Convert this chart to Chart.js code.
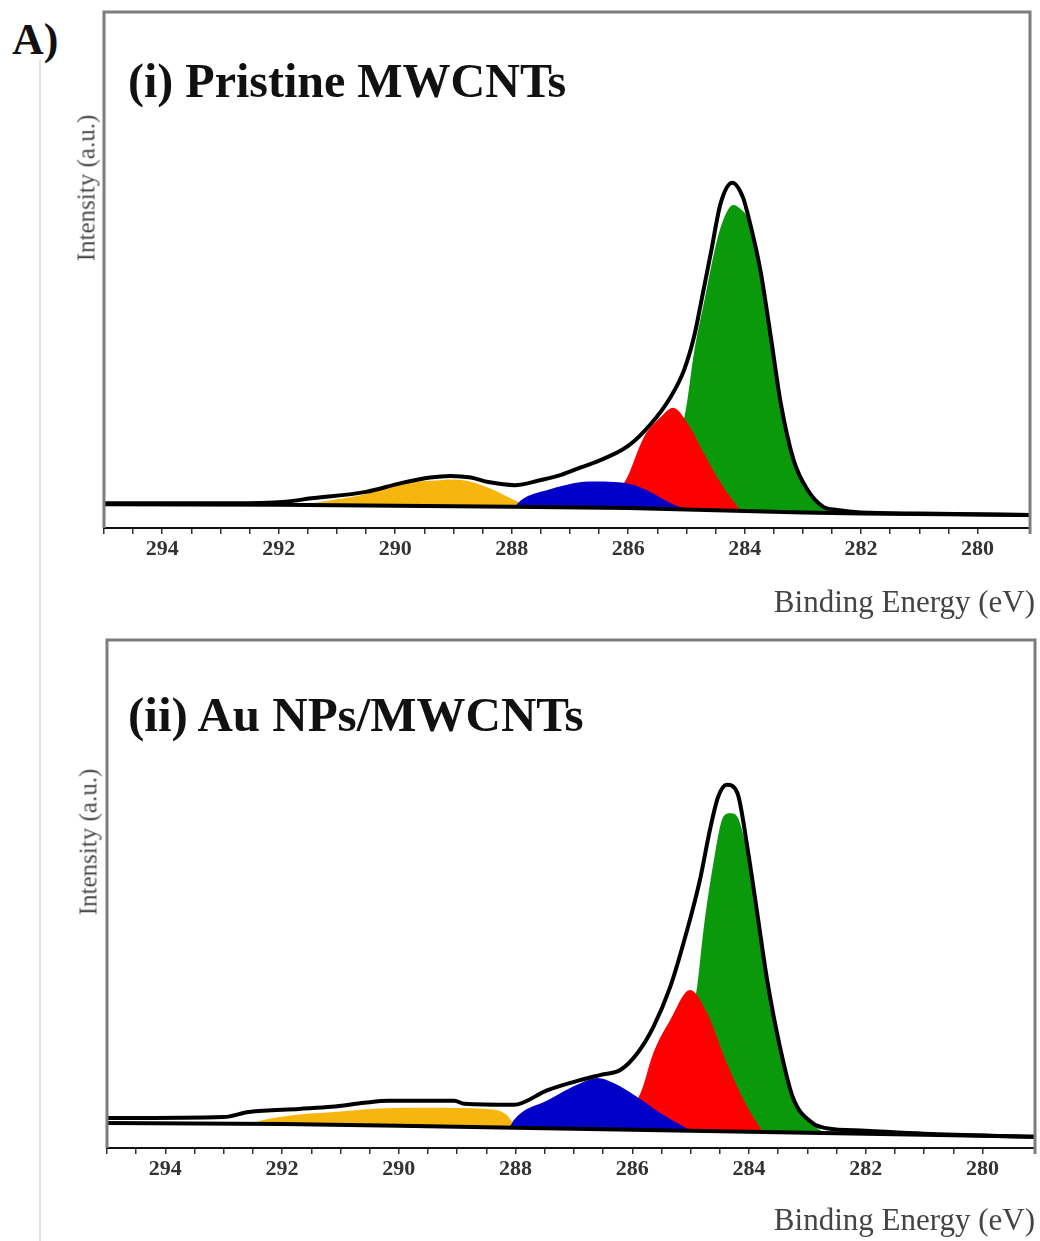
<!DOCTYPE html>
<html>
<head>
<meta charset="utf-8">
<title>C1s XPS spectra</title>
<script src="https://cdn.jsdelivr.net/npm/chart.js@4.4.1/dist/chart.umd.min.js"></script>
<style>
  body { margin: 0; background: #fff; }
  #wrap { position: relative; width: 1040px; height: 1241px; overflow: hidden; font-family: "Liberation Serif", "Times New Roman", serif; }
  canvas { position: absolute; left: 0; }
  .lbl { position: absolute; font-weight: bold; color: #111; line-height: 1; white-space: nowrap; }
  .ytitle { position: absolute; font-size: 25px; color: #4a4a4a; line-height: 1; white-space: nowrap;
            transform: translate(-50%, -50%) rotate(-90deg); }
  .xtitle { position: absolute; right: 5px; font-size: 31px; color: #444; line-height: 1; white-space: nowrap;
            transform: translateY(-50%); }
  #sideLine { position: absolute; left: 39px; top: 60px; width: 2px; height: 1181px; background: #e2e2e2; }
</style>
</head>
<body>
<div id="wrap">
  <div id="sideLine"></div>
  <div class="lbl" style="left:12px; top:18px; font-size:44px;">A)</div>
  <canvas id="chartTop" width="1040" height="620" style="top:0"></canvas>
  <canvas id="chartBottom" width="1040" height="621" style="top:620px"></canvas>
  <div class="lbl" style="left:128px; top:57px; font-size:48px;">(i) Pristine MWCNTs</div>
  <div class="lbl" style="left:128px; top:690px; font-size:49px;">(ii) Au NPs/MWCNTs</div>
  <div class="ytitle" style="left:86px; top:188px;">Intensity (a.u.)</div>
  <div class="ytitle" style="left:88px; top:842px;">Intensity (a.u.)</div>
  <div class="xtitle" style="top:601px;">Binding Energy (eV)</div>
  <div class="xtitle" style="top:1219px;">Binding Energy (eV)</div>
</div>

<script>
// axis range and tick labels (binding energy, eV)
const energyMax = 295;
const energyMin = 279.1;
const tickLabels = [294, 292, 290, 288, 286, 284, 282, 280];

// ---- (i) Pristine MWCNTs ----
const topBgE = [295, 292, 290, 288, 286, 285, 284, 283, 282, 279.1];
const topBgI = [4.6, 4.5, 4.3, 4.1, 3.9, 3.6, 3.3, 3.0, 2.8, 2.5];

const topEnvE = [295, 293, 292, 291.4, 290.5, 289.9, 289.4, 289.05, 288.7, 288.4, 287.95, 287.5, 287.15, 286.8, 286.6, 286.0, 285.6, 285.27, 285.04, 284.87, 284.75, 284.58, 284.41, 284.21, 284.03, 283.95, 283.73, 283.55, 283.38, 283.16, 282.92, 282.65, 282.41, 282.0, 281.0, 279.1];
const topEnvI = [4.8, 4.8, 5.0, 5.8, 7.0, 8.7, 9.8, 10.1, 9.8, 8.9, 8.3, 9.3, 10.3, 11.8, 12.6, 15.9, 20.3, 25.4, 30.6, 37.0, 43.6, 53.3, 63.0, 66.9, 64.1, 61.0, 50.0, 37.0, 24.2, 13.2, 7.4, 4.1, 3.5, 3.0, 2.8, 2.5];

const topOrangeE = [291.6, 291.1, 290.5, 290.2, 289.7, 289.3, 289.05, 288.8, 288.4, 287.95, 287.7];
const topOrangeI = [4.5, 5.4, 6.6, 7.8, 8.9, 9.2, 9.4, 9.2, 7.8, 5.4, 4.1];

const topBlueE = [287.95, 287.84, 287.37, 286.8, 286.59, 286.24, 286.0, 285.66, 285.27, 285.0];
const topBlueI = [4.1, 5.4, 7.4, 8.9, 9.0, 8.9, 8.6, 7.2, 4.8, 3.6];

const topRedE = [286.6, 286.3, 286.04, 285.73, 285.44, 285.23, 284.98, 284.7, 284.41, 284.07];
const topRedI = [3.9, 6.0, 9.3, 17.6, 21.5, 23.3, 20.3, 14.5, 8.7, 3.3];

const topGreenE = [285.9, 285.6, 285.3, 285.01, 284.87, 284.7, 284.46, 284.29, 284.19, 284.07, 283.95, 283.73, 283.55, 283.38, 283.16, 282.92, 282.65, 282.45];
const topGreenI = [3.9, 6.0, 12.0, 22.9, 33.9, 43.6, 56.4, 61.6, 62.6, 61.8, 60.0, 49.3, 36.4, 23.6, 12.8, 7.0, 3.9, 3.0];

// ---- (ii) Au NPs/MWCNTs ----
const botBgE = [295, 292, 290, 288, 286, 284, 283, 281, 279.1];
const botBgI = [4.9, 4.7, 4.4, 4.0, 3.6, 3.2, 3.0, 2.6, 2.2];

const botEnvE = [295, 293, 292.57, 291.71, 291.15, 290.59, 290.18, 289.05, 288.88, 288.03, 287.45, 286.88, 286.54, 286.2, 285.91, 285.64, 285.35, 285.06, 284.84, 284.67, 284.53, 284.38, 284.2, 284.03, 283.86, 283.69, 283.47, 283.25, 282.91, 282.67, 282.0, 281.0, 279.1];
const botEnvI = [5.9, 6.1, 7.1, 7.7, 8.1, 8.9, 9.3, 9.3, 8.7, 8.5, 11.4, 13.4, 14.4, 15.4, 18.7, 23.8, 31.7, 42.9, 52.8, 62.6, 69.1, 71.5, 69.9, 59.3, 46.3, 33.1, 19.9, 10.0, 4.9, 3.9, 3.4, 2.8, 2.2];

const botOrangeE = [292.6, 292.2, 291.7, 291.0, 290.6, 289.5, 288.5, 288.15, 288.0];
const botOrangeI = [4.7, 5.8, 6.6, 7.2, 7.6, 7.9, 7.7, 6.5, 4.1];

const botBlueE = [288.1, 288.03, 287.45, 286.88, 286.6, 286.32, 285.91, 285.52, 285.23, 285.0];
const botBlueI = [4.0, 5.5, 9.4, 12.8, 13.8, 12.8, 10.0, 6.9, 4.9, 3.4];

const botRedE = [286.6, 286.2, 285.86, 285.64, 285.35, 285.01, 284.72, 284.38, 284.03, 283.76];
const botRedI = [3.6, 6.0, 10.8, 18.7, 25.2, 31.1, 26.6, 16.7, 8.1, 3.1];

const botGreenE = [285.7, 285.4, 285.1, 284.89, 284.78, 284.61, 284.44, 284.32, 284.2, 284.03, 283.86, 283.69, 283.47, 283.25, 282.91, 282.7];
const botGreenI = [3.5, 10.0, 20.0, 31.7, 42.9, 56.1, 65.2, 65.9, 65.2, 57.8, 45.3, 32.3, 19.2, 9.5, 4.6, 3.0];

const colOrange = '#f7b60e';
const colBlue = '#0000c8';
const colRed = '#ff0000';
const colGreen = '#0a990a';

function pts(xs, ys) {
    return xs.map((x, i) => ({ x: x, y: ys[i] }));
}

// grey frame round the plot area (top, left, right)
const framePlugin = {
    id: 'frame',
    afterDraw(chart) {
        const { ctx, chartArea: a } = chart;
        ctx.save();
        ctx.strokeStyle = '#7d7d7d';
        ctx.lineWidth = 3;
        ctx.beginPath();
        ctx.moveTo(a.left, a.bottom);
        ctx.lineTo(a.left, a.top);
        ctx.lineTo(a.right, a.top);
        ctx.lineTo(a.right, a.bottom + 6);
        ctx.stroke();
        ctx.restore();
    }
};

function component(data, color, order) {
    return {
        data: data,
        borderWidth: 0,
        borderColor: color,
        backgroundColor: color,
        fill: 0,
        pointRadius: 0,
        cubicInterpolationMode: 'monotone',
        order: order
    };
}

function makeChart(id, bg, env, orange, blue, red, green, pad, axisHeight) {
    const ctx = document.getElementById(id).getContext('2d');
    return new Chart(ctx, {
        type: 'line',
        data: {
            datasets: [
                { data: bg, borderColor: '#000', borderWidth: 4, pointRadius: 0, fill: false, order: 0 },
                { data: env, borderColor: '#000', borderWidth: 4, pointRadius: 0, fill: false,
                  cubicInterpolationMode: 'monotone', order: 1 },
                component(orange, colOrange, 4),
                component(green, colGreen, 5),
                component(red, colRed, 3),
                component(blue, colBlue, 2)
            ]
        },
        options: {
            responsive: false,
            animation: false,
            layout: { padding: pad },
            plugins: {
                legend: { display: false },
                tooltip: { enabled: false }
            },
            scales: {
                x: {
                    type: 'linear',
                    reverse: true,
                    min: energyMin,
                    max: energyMax,
                    ticks: {
                        stepSize: 0.5,
                        autoSkip: false,
                        maxRotation: 0,
                        padding: 2,
                        color: '#333',
                        font: { family: 'Liberation Serif', size: 22, weight: 'bold' },
                        callback: function(v) {
                            const r = Math.round(v);
                            return (Math.abs(v - r) < 1e-6 && tickLabels.includes(r)) ? String(r) : '';
                        }
                    },
                    grid: { drawOnChartArea: false, tickLength: 6, color: '#333', lineWidth: 1.5 },
                    border: { color: '#111', width: 2 },
                    afterFit: function(scale) { scale.height = axisHeight; }
                },
                y: { display: false, min: 0, max: 100 }
            }
        },
        plugins: [framePlugin]
    });
}

makeChart('chartTop',
    pts(topBgE, topBgI), pts(topEnvE, topEnvI),
    pts(topOrangeE, topOrangeI), pts(topBlueE, topBlueI),
    pts(topRedE, topRedI), pts(topGreenE, topGreenI),
    { left: 104, top: 12, right: 10, bottom: 0 }, 92);

makeChart('chartBottom',
    pts(botBgE, botBgI), pts(botEnvE, botEnvI),
    pts(botOrangeE, botOrangeI), pts(botBlueE, botBlueI),
    pts(botRedE, botRedI), pts(botGreenE, botGreenI),
    { left: 107, top: 20, right: 5, bottom: 0 }, 93);
</script>
</body>
</html>
